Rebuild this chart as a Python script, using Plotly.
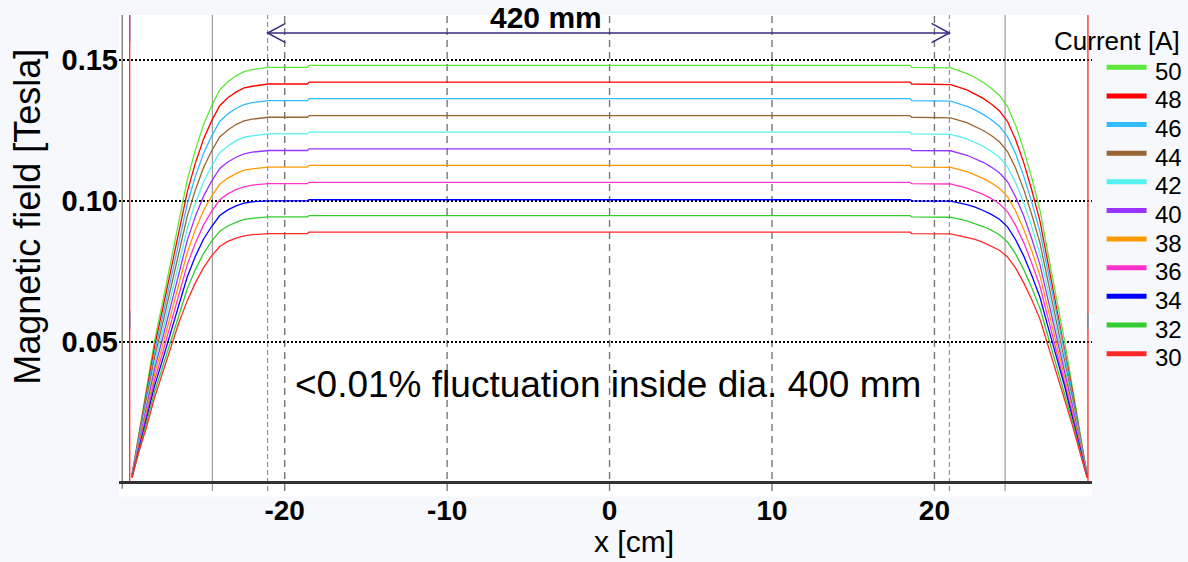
import plotly.graph_objects as go

# ---------------- data ----------------
x_cm = [-29.4, -29.0, -28.5, -28.0, -27.5, -27.0, -26.5, -26.0, -25.5, -25.0,
        -24.5, -24.0, -23.5, -23.0, -22.5, -22.0, -21.0, -18.6, -18.5, 18.5,
        18.6, 21.0, 22.0, 22.5, 23.0, 23.5, 24.0, 24.5, 25.0, 25.5,
        26.0, 26.5, 27.0, 27.5, 28.0, 28.5, 29.0, 29.4]

currents = ["50", "48", "46", "44", "42", "40", "38", "36", "34", "32", "30"]
colors = ["#5fe63a", "#ff0000", "#33bbff", "#996633", "#55f0f0", "#9933ff",
          "#ff9900", "#ff33cc", "#0000ff", "#33cc33", "#ff2a2a"]

B_50 = [0.0028, 0.0163, 0.0337, 0.0507, 0.0645, 0.0785, 0.0930, 0.1074, 0.1181, 0.1270,
        0.1337, 0.1394, 0.1423, 0.1444, 0.1459, 0.1466, 0.1474, 0.1474, 0.1481, 0.1481,
        0.1474, 0.1472, 0.1452, 0.1438, 0.1421, 0.1400, 0.1375, 0.1335, 0.1268, 0.1182,
        0.1080, 0.0966, 0.0810, 0.0660, 0.0507, 0.0337, 0.0163, 0.0028]
B_48 = [0.0027, 0.0156, 0.0324, 0.0487, 0.0619, 0.0754, 0.0893, 0.1031, 0.1134, 0.1219,
        0.1284, 0.1338, 0.1366, 0.1386, 0.1401, 0.1407, 0.1415, 0.1415, 0.1422, 0.1422,
        0.1415, 0.1413, 0.1394, 0.1380, 0.1364, 0.1344, 0.1320, 0.1282, 0.1217, 0.1135,
        0.1037, 0.0927, 0.0778, 0.0634, 0.0487, 0.0324, 0.0156, 0.0027]
B_46 = [0.0026, 0.0150, 0.0310, 0.0466, 0.0593, 0.0722, 0.0856, 0.0988, 0.1087, 0.1168,
        0.1230, 0.1282, 0.1309, 0.1328, 0.1342, 0.1349, 0.1356, 0.1356, 0.1363, 0.1363,
        0.1356, 0.1354, 0.1336, 0.1323, 0.1307, 0.1288, 0.1265, 0.1228, 0.1167, 0.1087,
        0.0994, 0.0889, 0.0745, 0.0607, 0.0466, 0.0310, 0.0150, 0.0026]
B_44 = [0.0025, 0.0143, 0.0297, 0.0446, 0.0568, 0.0691, 0.0818, 0.0945, 0.1039, 0.1118,
        0.1177, 0.1227, 0.1252, 0.1271, 0.1284, 0.1290, 0.1297, 0.1297, 0.1303, 0.1303,
        0.1297, 0.1295, 0.1278, 0.1265, 0.1250, 0.1232, 0.1210, 0.1175, 0.1116, 0.1040,
        0.0950, 0.0850, 0.0713, 0.0581, 0.0446, 0.0297, 0.0143, 0.0025]
B_42 = [0.0024, 0.0137, 0.0283, 0.0426, 0.0542, 0.0659, 0.0781, 0.0902, 0.0992, 0.1067,
        0.1123, 0.1171, 0.1195, 0.1213, 0.1226, 0.1231, 0.1238, 0.1238, 0.1244, 0.1244,
        0.1238, 0.1236, 0.1220, 0.1208, 0.1194, 0.1176, 0.1155, 0.1121, 0.1065, 0.0993,
        0.0907, 0.0811, 0.0680, 0.0554, 0.0426, 0.0283, 0.0137, 0.0024]
B_40 = [0.0022, 0.0130, 0.0270, 0.0406, 0.0516, 0.0628, 0.0744, 0.0859, 0.0945, 0.1016,
        0.1070, 0.1115, 0.1138, 0.1155, 0.1167, 0.1173, 0.1179, 0.1179, 0.1185, 0.1185,
        0.1179, 0.1178, 0.1162, 0.1150, 0.1137, 0.1120, 0.1100, 0.1068, 0.1014, 0.0946,
        0.0864, 0.0773, 0.0648, 0.0528, 0.0406, 0.0270, 0.0130, 0.0022]
B_38 = [0.0021, 0.0124, 0.0256, 0.0385, 0.0490, 0.0597, 0.0707, 0.0816, 0.0898, 0.0965,
        0.1016, 0.1059, 0.1081, 0.1097, 0.1109, 0.1114, 0.1120, 0.1120, 0.1126, 0.1126,
        0.1120, 0.1119, 0.1104, 0.1093, 0.1080, 0.1064, 0.1045, 0.1015, 0.0964, 0.0898,
        0.0821, 0.0734, 0.0616, 0.0502, 0.0385, 0.0256, 0.0124, 0.0021]
B_36 = [0.0020, 0.0117, 0.0243, 0.0365, 0.0464, 0.0565, 0.0670, 0.0773, 0.0850, 0.0914,
        0.0963, 0.1004, 0.1025, 0.1040, 0.1050, 0.1056, 0.1061, 0.1061, 0.1066, 0.1066,
        0.1061, 0.1060, 0.1045, 0.1035, 0.1023, 0.1008, 0.0990, 0.0961, 0.0913, 0.0851,
        0.0778, 0.0696, 0.0583, 0.0475, 0.0365, 0.0243, 0.0117, 0.0020]
B_34 = [0.0019, 0.0111, 0.0229, 0.0345, 0.0439, 0.0534, 0.0632, 0.0730, 0.0803, 0.0864,
        0.0909, 0.0948, 0.0968, 0.0982, 0.0992, 0.0997, 0.1000, 0.1000, 0.1004, 0.1004,
        0.1000, 0.0999, 0.0987, 0.0978, 0.0966, 0.0952, 0.0935, 0.0908, 0.0862, 0.0804,
        0.0734, 0.0657, 0.0551, 0.0449, 0.0345, 0.0229, 0.0111, 0.0019]
B_32 = [0.0018, 0.0104, 0.0216, 0.0324, 0.0413, 0.0502, 0.0595, 0.0687, 0.0756, 0.0813,
        0.0856, 0.0892, 0.0911, 0.0924, 0.0934, 0.0938, 0.0943, 0.0943, 0.0948, 0.0948,
        0.0943, 0.0942, 0.0929, 0.0920, 0.0909, 0.0896, 0.0880, 0.0854, 0.0812, 0.0756,
        0.0691, 0.0618, 0.0518, 0.0422, 0.0324, 0.0216, 0.0104, 0.0018]
B_30 = [0.0017, 0.0105, 0.0198, 0.0304, 0.0392, 0.0478, 0.0570, 0.0645, 0.0709, 0.0762,
        0.0805, 0.0838, 0.0856, 0.0868, 0.0876, 0.0880, 0.0884, 0.0884, 0.0889, 0.0889,
        0.0884, 0.0883, 0.0871, 0.0863, 0.0853, 0.0840, 0.0825, 0.0801, 0.0761, 0.0709,
        0.0648, 0.0580, 0.0486, 0.0396, 0.0304, 0.0202, 0.0098, 0.0017]
series = [B_50, B_48, B_46, B_44, B_42, B_40, B_38, B_36, B_34, B_32, B_30]

x_ticks = [-20, -10, 0, 10, 20]
x_tick_text = ["-20", "-10", "0", "10", "20"]
y_ticks = [0.05, 0.10, 0.15]
y_tick_text = ["0.05", "0.10", "0.15"]

edge_lines = [-29.54, 29.45]        # red vertical lines at the ends
pole_lines = [-24.45, 24.35]        # grey solid lines
dia_lines = [-21.05, 20.92]         # blue dashed lines (420 mm)
arrow_y = 0.1596
X_RANGE = [-30.2, 29.7]
Y_RANGE = [-0.0030, 0.166]
Y_AXIS_X = -30.0

FONT = "Arial, Liberation Sans, sans-serif"

# pixel -> paper helpers for the hand-made legend / titles
PL, PR, PT, PB = 119, 1092.4, 15, 491.5
def xp(px):
    return (px - PL) / (PR - PL)
def yp(py):
    return (PB - py) / (PB - PT)

fig = go.Figure()
for lab, col, ys in zip(currents, colors, series):
    fig.add_trace(go.Scatter(x=x_cm, y=ys, mode="lines", name=lab,
                             line=dict(color=col, width=1.3), showlegend=False))

shapes = []
# white strip continuing the plot area below the axis
shapes.append(dict(type="rect", xref="paper", yref="paper", x0=0, x1=1, y0=yp(497), y1=0,
                   fillcolor="white", line=dict(width=0), layer="below"))
# x grid (dashed grey)
for xv in x_ticks:
    shapes.append(dict(type="line", xref="x", yref="y", x0=xv, x1=xv, y0=Y_RANGE[0], y1=Y_RANGE[1],
                       line=dict(color="#777777", width=1.4, dash="7px,5px"), layer="below"))
for xv in pole_lines:
    shapes.append(dict(type="line", xref="x", yref="y", x0=xv, x1=xv, y0=Y_RANGE[0], y1=Y_RANGE[1],
                       line=dict(color="#9a9a9a", width=1.2), layer="below"))
for xv in dia_lines:
    shapes.append(dict(type="line", xref="x", yref="y", x0=xv, x1=xv, y0=Y_RANGE[0], y1=Y_RANGE[1],
                       line=dict(color="#6f6fff", width=1, dash="5px,3px"), layer="below"))
# y axis line
shapes.append(dict(type="line", xref="x", yref="y", x0=Y_AXIS_X, x1=Y_AXIS_X, y0=-0.0022, y1=Y_RANGE[1],
                   line=dict(color="#888888", width=1.5), layer="below"))
# red end lines
for xv in edge_lines:
    shapes.append(dict(type="line", xref="x", yref="y", x0=xv, x1=xv, y0=0.0005, y1=Y_RANGE[1],
                       line=dict(color="#ff2a2a", width=1.3)))
# tiny coloured bits on the end lines
shapes.append(dict(type="line", xref="x", yref="y", x0=edge_lines[0], x1=edge_lines[0], y0=0.1565, y1=0.166,
                   line=dict(color="#8a5bd0", width=1.3)))
shapes.append(dict(type="line", xref="x", yref="y", x0=edge_lines[0], x1=edge_lines[0], y0=0.0545, y1=0.0610,
                   line=dict(color="#5b5bdf", width=1.3)))
shapes.append(dict(type="line", xref="x", yref="y", x0=edge_lines[1], x1=edge_lines[1], y0=0.0545, y1=0.0600,
                   line=dict(color="#3fa0c0", width=1.3)))
# 420 mm arrow
ac = "#3b2a80"
shapes.append(dict(type="line", xref="x", yref="y", x0=dia_lines[0], x1=dia_lines[1], y0=arrow_y, y1=arrow_y,
                   line=dict(color=ac, width=1.5)))
ax0, ax1 = dia_lines[0], dia_lines[1]
shapes.append(dict(type="path", xref="x", yref="y",
                   path=f"M {ax0+1.1},{arrow_y+0.0034} L {ax0},{arrow_y} L {ax0+1.1},{arrow_y-0.0034}",
                   line=dict(color=ac, width=1.5)))
shapes.append(dict(type="path", xref="x", yref="y",
                   path=f"M {ax1-1.1},{arrow_y+0.0034} L {ax1},{arrow_y} L {ax1-1.1},{arrow_y-0.0034}",
                   line=dict(color=ac, width=1.5)))

annotations = [
    dict(x=-3.9, y=0.1652, xref="x", yref="y", text="<b>420 mm</b>", showarrow=False,
         xanchor="center", yanchor="middle",
         font=dict(family=FONT, size=30, color="black")),
    dict(x=-0.1, y=(483 - 385) / 2820, xref="x", yref="y", text="&lt;0.01% fluctuation inside dia. 400 mm",
         showarrow=False, xanchor="center", yanchor="middle",
         font=dict(family=FONT, size=37, color="black")),
    dict(x=xp(28), y=yp(217), xref="paper", yref="paper", text="Magnetic field [Tesla]", textangle=-90,
         showarrow=False, xanchor="center", yanchor="middle",
         font=dict(family=FONT, size=36, color="black")),
    dict(x=xp(634), y=yp(542), xref="paper", yref="paper", text="x [cm]",
         showarrow=False, xanchor="center", yanchor="middle",
         font=dict(family=FONT, size=30, color="black")),
    dict(x=xp(1052), y=yp(41), xref="paper", yref="paper", text="Current [A]",
         xanchor="left", yanchor="middle",
         showarrow=False, font=dict(family=FONT, size=26, color="black")),
]
for i, (lab, col) in enumerate(zip(currents, colors)):
    sy = 67.3 + i * 28.67
    shapes.append(dict(type="line", xref="paper", yref="paper", x0=xp(1107), x1=xp(1147),
                       y0=yp(sy), y1=yp(sy), line=dict(color=col, width=5)))
    annotations.append(dict(x=xp(1153), y=yp(sy + 4), xref="paper", yref="paper", text=lab,
                            xanchor="left", yanchor="middle", showarrow=False,
                            font=dict(family=FONT, size=24, color="black")))

fig.update_layout(
    width=1188, height=562,
    margin=dict(l=PL, r=1188 - PR, t=PT, b=562 - PB),
    paper_bgcolor="#f6f8fb", plot_bgcolor="white",
    showlegend=False,
    shapes=shapes, annotations=annotations,
    xaxis=dict(range=X_RANGE, showgrid=False, zeroline=False, showline=False,
               tickvals=x_ticks, ticktext=x_tick_text, ticks="",
               tickfont=dict(family=FONT, size=28, color="black", weight="bold")),
    yaxis=dict(range=Y_RANGE, showgrid=True, gridcolor="black", griddash="2px,2px", gridwidth=1.5,
               zeroline=True, zerolinecolor="#333333", zerolinewidth=2.5, showline=False,
               tickvals=y_ticks, ticktext=y_tick_text, ticks="",
               tickfont=dict(family=FONT, size=29, color="black", weight="bold")),
)

fig.write_html("out.html")
